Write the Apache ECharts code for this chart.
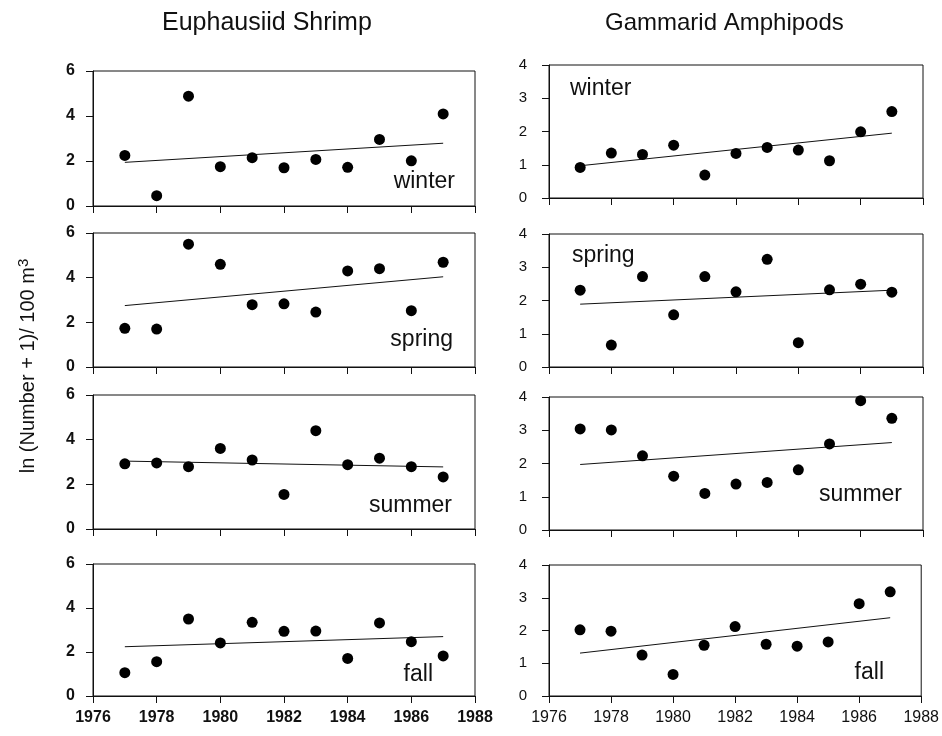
<!DOCTYPE html>
<html>
<head>
<meta charset="utf-8">
<script src="https://cdn.jsdelivr.net/npm/echarts@6/dist/echarts.min.js"></script>
<style>
  html, body { margin: 0; padding: 0; background: #fff; }
  #chart { width: 942px; height: 736px; }
</style>
</head>
<body>
<div id="chart"></div>
<script>
// years sampled
var years = [1977, 1978, 1979, 1980, 1981, 1982, 1983, 1984, 1985, 1986, 1987];
var trendYears = [1977, 1987];
var xTicks = [1976, 1978, 1980, 1982, 1984, 1986, 1988];

// Euphausiid shrimp
var euphWinter = [2.25, 0.46, 4.88, 1.75, 2.15, 1.70, 2.07, 1.72, 2.96, 2.01, 4.09];
var euphSpring = [1.73, 1.70, 5.50, 4.60, 2.79, 2.83, 2.46, 4.30, 4.40, 2.52, 4.69];
var euphSummer = [2.92, 2.96, 2.79, 3.61, 3.09, 1.55, 4.40, 2.88, 3.17, 2.79, 2.33];
var euphFall   = [1.06, 1.56, 3.50, 2.41, 3.35, 2.94, 2.95, 1.71, 3.32, 2.47, 1.82];
var euphWinterTrend = [1.94, 2.79];
var euphSpringTrend = [2.75, 4.04];
var euphSummerTrend = [3.04, 2.78];
var euphFallTrend   = [2.24, 2.70];

// Gammarid amphipods
var gamWinter = [0.92, 1.35, 1.31, 1.59, 0.69, 1.34, 1.52, 1.44, 1.12, 1.99, 2.60];
var gamSpring = [2.31, 0.66, 2.72, 1.57, 2.72, 2.26, 3.24, 0.73, 2.32, 2.49, 2.25];
var gamSummer = [3.04, 3.01, 2.23, 1.62, 1.10, 1.38, 1.43, 1.81, 2.59, 3.89, 3.36];
var gamFall   = [2.02, 1.98, 1.25, 0.66, 1.55, 2.12, 1.58, 1.52, 1.65, 2.82, 3.18];
var gamWinterTrend = [0.97, 1.95];
var gamSpringTrend = [1.89, 2.31];
var gamSummerTrend = [1.97, 2.63];
var gamFallTrend   = [1.31, 2.39];

var seasons = ['winter', 'spring', 'summer', 'fall'];

var panels = [
  { vals: euphWinter, trend: euphWinterTrend, max: 6, step: 2, col: 0 },
  { vals: euphSpring, trend: euphSpringTrend, max: 6, step: 2, col: 0 },
  { vals: euphSummer, trend: euphSummerTrend, max: 6, step: 2, col: 0 },
  { vals: euphFall,   trend: euphFallTrend,   max: 6, step: 2, col: 0 },
  { vals: gamWinter,  trend: gamWinterTrend,  max: 4, step: 1, col: 1 },
  { vals: gamSpring,  trend: gamSpringTrend,  max: 4, step: 1, col: 1 },
  { vals: gamSummer,  trend: gamSummerTrend,  max: 4, step: 1, col: 1 },
  { vals: gamFall,    trend: gamFallTrend,    max: 4, step: 1, col: 1 }
];

// grid boxes [left, top, width, height]
var boxes = [
  [93, 71, 382, 135], [93, 233, 382, 134], [93, 395, 382, 134], [93, 564, 382, 132],
  [549, 65, 374, 133], [549, 234, 374, 133], [549, 397, 374, 133], [549, 565, 374, 131]
];

var font = 'Arial, "Liberation Sans", sans-serif';
var grids = [], xAxes = [], yAxes = [], series = [];

panels.forEach(function (p, i) {
  var b = boxes[i];
  var bottom = (i % 4) === 3;
  var left = p.col === 0;
  grids.push({
    left: b[0], top: b[1], width: b[2], height: b[3],
    show: true, borderColor: '#111', borderWidth: 1, backgroundColor: 'transparent'
  });
  xAxes.push({
    type: 'value', gridIndex: i, min: 1976, max: 1988, interval: 2,
    axisLine: { show: true, onZero: false, lineStyle: { color: '#111', width: 1 } },
    axisTick: { show: true, length: 7, lineStyle: { color: '#111' } },
    axisLabel: {
      show: bottom, color: '#111',
      fontSize: 16, fontWeight: left ? 'bold' : 'normal',
      fontFamily: font, margin: 14,
      formatter: function (v) { return xTicks.indexOf(v) >= 0 ? String(v) : ''; }
    },
    splitLine: { show: false }
  });
  yAxes.push({
    type: 'value', gridIndex: i, min: 0, max: p.max, interval: p.step,
    axisLine: { show: true, lineStyle: { color: '#111', width: 1 } },
    axisTick: { show: true, length: 7, lineStyle: { color: '#111' } },
    axisLabel: {
      color: '#111', fontSize: left ? 16 : 15, fontWeight: left ? 'bold' : 'normal',
      fontFamily: font, margin: left ? 18 : 22
    },
    splitLine: { show: false }
  });
  series.push({
    type: 'scatter', xAxisIndex: i, yAxisIndex: i,
    symbol: 'circle', symbolSize: 11,
    itemStyle: { color: '#000', opacity: 1 },
    data: years.map(function (y, k) { return [y, p.vals[k]]; }),
    z: 3
  });
  series.push({
    type: 'line', xAxisIndex: i, yAxisIndex: i,
    showSymbol: false, symbol: 'none',
    lineStyle: { color: '#111', width: 1 },
    data: trendYears.map(function (y, k) { return [y, p.trend[k]]; }),
    z: 2
  });
});

// season label spots (x, middle y)
var labelSpots = [
  { x: 455, y: 182, align: 'right' }, { x: 453, y: 340, align: 'right' },
  { x: 452, y: 506, align: 'right' }, { x: 433, y: 675, align: 'right' },
  { x: 570, y: 89, align: 'left' },  { x: 572, y: 256, align: 'left' },
  { x: 902, y: 495, align: 'right' }, { x: 884, y: 673, align: 'right' }
];

var graphics = labelSpots.map(function (s, i) {
  return {
    type: 'text', x: s.x, y: s.y,
    style: {
      text: seasons[i % 4], font: '23px ' + font, fill: '#111',
      align: s.align, verticalAlign: 'middle'
    }
  };
});

graphics.push({
  type: 'text', x: 162, y: 23,
  style: { text: 'Euphausiid Shrimp', font: '25px ' + font, fill: '#111', align: 'left', verticalAlign: 'middle' }
});
graphics.push({
  type: 'text', x: 605, y: 23,
  style: { text: 'Gammarid Amphipods', font: '24px ' + font, fill: '#111', align: 'left', verticalAlign: 'middle' }
});
graphics.push({
  type: 'text', x: 28, y: 366, rotation: Math.PI / 2,
  style: {
    text: '{a|ln (Number + 1)/ 100 m}{s|3}',
    align: 'center', verticalAlign: 'middle',
    rich: {
      a: { font: '20px ' + font, fill: '#111', lineHeight: 24 },
      s: { font: '15px ' + font, fill: '#111', verticalAlign: 'top', lineHeight: 24 }
    }
  }
});

var chart = echarts.init(document.getElementById('chart'));
chart.setOption({
  animation: false,
  backgroundColor: '#fff',
  grid: grids,
  xAxis: xAxes,
  yAxis: yAxes,
  series: series,
  graphic: graphics
});
</script>
</body>
</html>
